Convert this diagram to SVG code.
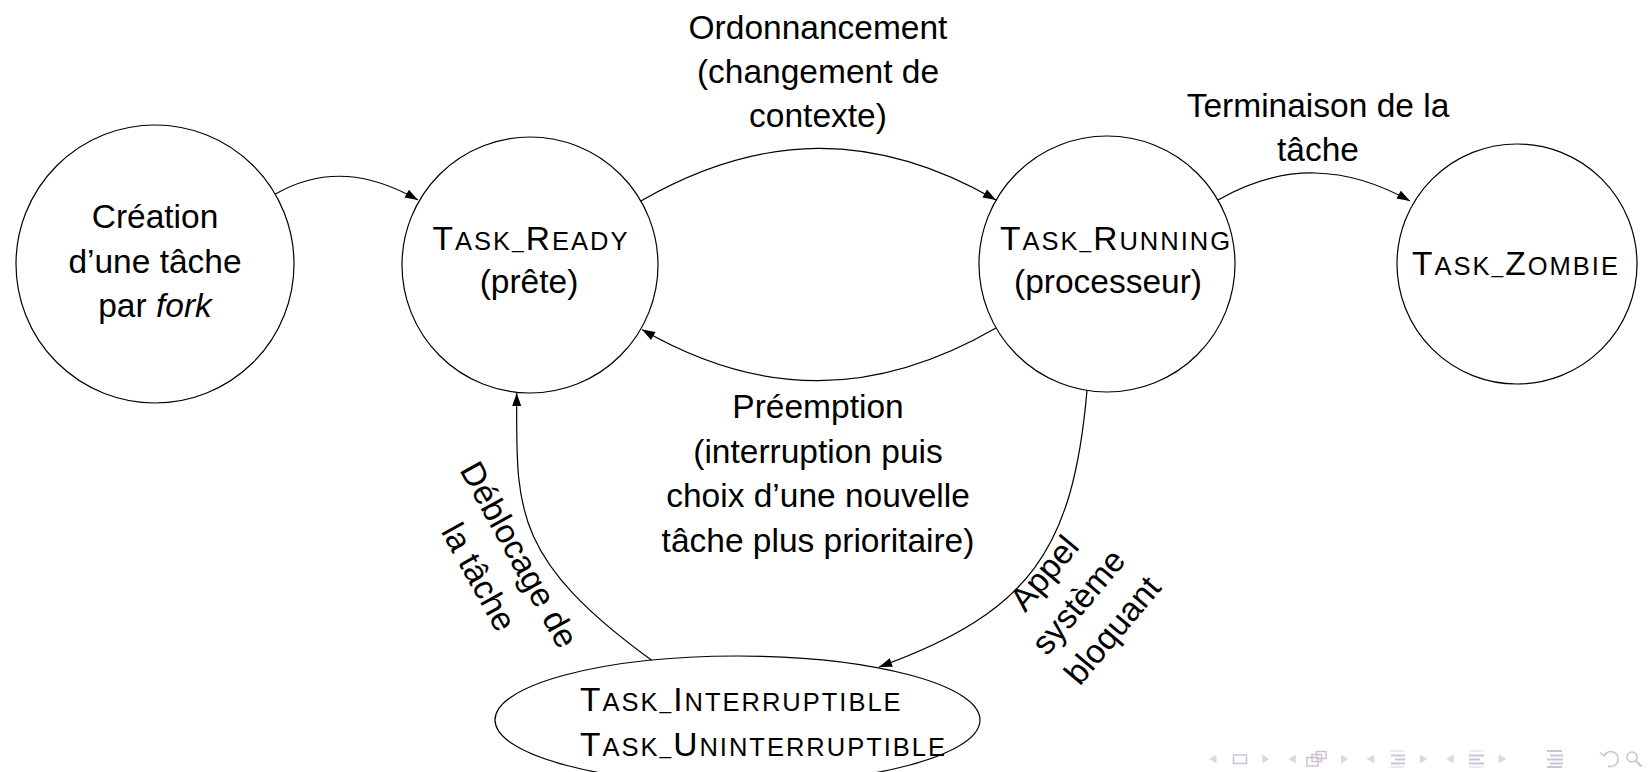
<svg xmlns="http://www.w3.org/2000/svg" width="1648" height="772" viewBox="0 0 1648 772">
<style>
text{font-family:"Liberation Sans",Arial,Helvetica,sans-serif;font-size:33.5px;fill:#000}
.c{text-anchor:middle}
.sc{font-size:25.5px}
.us{font-size:21px}
.task{letter-spacing:2px}
.node{fill:#fff;stroke:#000;stroke-width:1.2}
.edge{fill:none;stroke:#000;stroke-width:1.2;marker-end:url(#arr)}
.nav{fill:#ddd6e6}
.navs{fill:none;stroke:#cbc2d9;stroke-width:1.5}
.navb{stroke:#cbc2d9;stroke-width:2}
.navt{stroke:#e0dbe8;stroke-width:1.2}
</style>
<defs>
<marker id="arr" markerUnits="userSpaceOnUse" markerWidth="16" markerHeight="16" viewBox="-14 -8 16 16" refX="0" refY="0" orient="auto">
<path d="M0,0 L-13,-4.5 L-13,4.5 Z" fill="#000"/>
</marker>
</defs>
<rect width="1648" height="772" fill="#fff"/>

<g id="creation">
<circle class="node" cx="155" cy="264" r="139"/>
<text class="c" x="155" y="228">Création</text>
<text class="c" x="155" y="272.5">d’une tâche</text>
<text class="c" x="155" y="317">par <tspan font-style="italic">fork</tspan></text>
</g>

<g id="ready">
<circle class="node" cx="530" cy="265" r="128"/>
<text class="c task" x="531" y="249.5">T<tspan class="sc">ASK</tspan><tspan class="us" dy="-2">_</tspan><tspan dy="2">R</tspan><tspan class="sc">EADY</tspan></text>
<text class="c" x="529" y="293">(prête)</text>
</g>

<g id="running">
<circle class="node" cx="1107" cy="264" r="128"/>
<text class="c task" x="1116" y="249.5">T<tspan class="sc">ASK</tspan><tspan class="us" dy="-2">_</tspan><tspan dy="2">R</tspan><tspan class="sc">UNNING</tspan></text>
<text class="c" x="1108" y="293">(processeur)</text>
</g>

<g id="zombie">
<circle class="node" cx="1517" cy="264" r="120"/>
<text class="c task" x="1516" y="275">T<tspan class="sc">ASK</tspan><tspan class="us" dy="-2">_</tspan><tspan dy="2">Z</tspan><tspan class="sc">OMBIE</tspan></text>
</g>

<g id="blocked">
<ellipse class="node" cx="737.5" cy="720" rx="242.5" ry="64"/>
<text class="task" x="580" y="710.5">T<tspan class="sc">ASK</tspan><tspan class="us" dy="-2">_</tspan><tspan dy="2">I</tspan><tspan class="sc">NTERRUPTIBLE</tspan></text>
<text class="task" x="580" y="755.5">T<tspan class="sc">ASK</tspan><tspan class="us" dy="-2">_</tspan><tspan dy="2">U</tspan><tspan class="sc">NINTERRUPTIBLE</tspan></text>
</g>

<g id="connectors">
<path class="edge" d="M275.4,194 C324,166.4 370.4,172.9 418,200"/>
<path class="edge" d="M640.9,201 C761.4,131.5 875.6,130.5 996,200"/>
<path class="edge" d="M996,328 C875.6,397.5 761.4,398.5 642,329.5"/>
<path class="edge" d="M1218,200 C1284,161.8 1347,165.8 1410,201"/>
<path class="edge" d="M1087,390.4 C1073.1,549.4 1030.4,612.3 879,667"/>
<path class="edge" d="M651.7,660.3 C510.1,557.4 516.7,507 516.7,393"/>
</g>

<g id="labels">
<text class="c" x="818" y="38.5">Ordonnancement</text>
<text class="c" x="818" y="83">(changement de</text>
<text class="c" x="818" y="127">contexte)</text>
<text class="c" x="1318" y="117">Terminaison de la</text>
<text class="c" x="1318" y="161">tâche</text>
<text class="c" x="818" y="418">Préemption</text>
<text class="c" x="818" y="462.5">(interruption puis</text>
<text class="c" x="818" y="507">choix d’une nouvelle</text>
<text class="c" x="818" y="551.5">tâche plus prioritaire)</text>
<g transform="translate(489,571.3) rotate(61)">
<text class="c" x="0" y="-23">Déblocage de</text>
<text class="c" x="0" y="23">la tâche</text>
</g>
<g transform="translate(1087,609) rotate(-50)">
<text class="c" x="0" y="-44.5">Appel</text>
<text class="c" x="0" y="0">système</text>
<text class="c" x="0" y="44.5">bloquant</text>
</g>
</g>

<g id="navigation">
<polygon class="nav" points="1216.5,754.5 1209,759 1216.5,763.5"/>
<rect class="navs" x="1233.5" y="755" width="13" height="8.5"/>
<polygon class="nav" points="1262.3,754.5 1269.3,759 1262.3,763.5"/>
<polygon class="nav" points="1295.7,754.5 1288.3,759 1295.7,763.5"/>
<rect class="navs" x="1316.5" y="751.5" width="9.5" height="7"/>
<rect class="navs" x="1312" y="754.5" width="9.5" height="7" fill="#fff"/>
<rect class="navs" x="1307" y="757.5" width="11" height="8.5" fill="#fff"/>
<polygon class="nav" points="1341,754.5 1348.3,759 1341,763.5"/>
<polygon class="nav" points="1374.3,754.5 1366.7,759 1374.3,763.5"/>
<line class="navt" x1="1390" y1="751" x2="1404" y2="751"/>
<line class="navb" x1="1391" y1="755.5" x2="1405" y2="755.5"/>
<line class="navb" x1="1395" y1="759.5" x2="1405" y2="759.5"/>
<line class="navb" x1="1391" y1="763.5" x2="1405" y2="763.5"/>
<line class="navt" x1="1390" y1="767" x2="1404" y2="767"/>
<polygon class="nav" points="1420,754.5 1427.3,759 1420,763.5"/>
<polygon class="nav" points="1453.7,754.5 1446.3,759 1453.7,763.5"/>
<line class="navt" x1="1469" y1="751" x2="1483" y2="751"/>
<line class="navb" x1="1469" y1="755.5" x2="1484" y2="755.5"/>
<line class="navb" x1="1469" y1="759.5" x2="1480" y2="759.5"/>
<line class="navb" x1="1469" y1="763.5" x2="1484" y2="763.5"/>
<line class="navt" x1="1469" y1="767" x2="1483" y2="767"/>
<polygon class="nav" points="1498.7,754.5 1506.3,759 1498.7,763.5"/>
<line class="navb" x1="1547" y1="751" x2="1562" y2="751"/>
<line class="navb" x1="1550" y1="755.5" x2="1563" y2="755.5"/>
<line class="navb" x1="1547" y1="759.5" x2="1563" y2="759.5"/>
<line class="navb" x1="1550" y1="763.5" x2="1563" y2="763.5"/>
<line class="navb" x1="1547" y1="767" x2="1562" y2="767"/>
<path class="navs" d="M1604,755.5 A7.5,7.5 0 1 1 1608,766 M1600,752.5 L1604,756 L1608,752"/>
<circle class="navs" cx="1632" cy="757" r="5"/>
<line class="navb" x1="1635.5" y1="760.5" x2="1641.5" y2="766.5"/>
</g>
</svg>
